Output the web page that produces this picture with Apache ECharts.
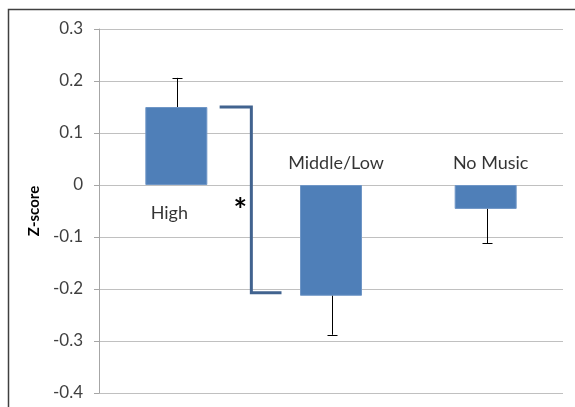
<!DOCTYPE html>
<html>
<head>
<meta charset="utf-8">
<script src="https://cdn.jsdelivr.net/npm/echarts@6/dist/echarts.min.js"></script>
<style>html,body{margin:0;padding:0;background:#fff;}#c{width:575px;height:407px;}</style>
</head>
<body>
<div id="c"></div>
<script>
const categories = ['High', 'Middle/Low', 'No Music'];
const means = [0.15, -0.213, -0.046];
const errorEnds = [0.206, -0.288, -0.112];
const yTicks = { min: -0.4, max: 0.3, step: 0.1 };
const sigPair = [0, 1];
const sigLabel = '*';
const yName = 'Z-score';

const FONT = 'Lato, "Open Sans", sans-serif';
const chart = echarts.init(document.getElementById('c'), null, { renderer: 'canvas' });

const labelOffsets = [[-7, 28], [5, -22], [5, -22]];

const option = {
  animation: false,
  backgroundColor: '#fff',
  grid: { left: 99, right: 12, top: 29, bottom: 14 },
  graphic: [{
    type: 'rect', z: 100, silent: true,
    shape: { x: 8.5, y: 9.5, width: 700, height: 600 },
    style: { fill: 'none', stroke: '#404040', lineWidth: 1.5 }
  }],
  xAxis: {
    type: 'category', data: categories,
    axisLine: { show: false }, axisTick: { show: false }, axisLabel: { show: false },
    splitLine: { show: false }
  },
  yAxis: {
    type: 'value', min: yTicks.min, max: yTicks.max, interval: yTicks.step,
    name: yName, nameLocation: 'middle', nameGap: 56, nameRotate: 90,
    nameTextStyle: { fontFamily: FONT, fontWeight: 'bold', fontSize: 15, color: '#000' },
    axisLine: { show: true, lineStyle: { color: '#a6a6a6', width: 1 } },
    axisTick: { show: true, length: 5, lineStyle: { color: '#a6a6a6' } },
    axisLabel: {
      fontFamily: FONT, fontSize: 17, color: '#404040', margin: 16,
      formatter: v => String(Math.round(v * 10) / 10)
    },
    splitLine: { show: true, lineStyle: { color: '#c0c0c0', width: 1 } }
  },
  series: [
    {
      type: 'bar', data: means, barWidth: 62,
      itemStyle: { color: '#4f7fb8', borderColor: '#6f96c6', borderWidth: 1 }
    },
    {
      type: 'custom',
      data: categories.map((c, i) => [i, means[i], errorEnds[i]]),
      renderItem: (params, api) => {
        const p1 = api.coord([api.value(0), api.value(1)]);
        const p2 = api.coord([api.value(0), api.value(2)]);
        const x = Math.round(p1[0]) + 1.5;
        return {
          type: 'group',
          children: [
            { type: 'line', shape: { x1: x, y1: p1[1], x2: x, y2: p2[1] }, style: { stroke: '#000', lineWidth: 1 } },
            { type: 'line', shape: { x1: x - 5, y1: Math.round(p2[1]) + 0.5, x2: x + 5, y2: Math.round(p2[1]) + 0.5 }, style: { stroke: '#000', lineWidth: 1 } }
          ]
        };
      },
      z: 5
    },
    {
      type: 'scatter', symbolSize: 0,
      data: categories.map((c, i) => ({
        value: [i, 0],
        label: { show: true, formatter: c, position: 'inside', offset: labelOffsets[i] }
      })),
      label: { fontFamily: FONT, fontSize: 18, color: '#000' },
      silent: true, z: 6
    },
    {
      type: 'custom',
      data: [[sigPair[0], means[sigPair[0]], sigPair[1], means[sigPair[1]]]],
      renderItem: (params, api) => {
        const a = api.coord([api.value(0), api.value(1)]);
        const b = api.coord([api.value(2), api.value(3)]);
        const band = api.size([1, 0])[0];
        const xStart = a[0] + band * 0.28;
        const xV = a[0] + band * 0.485;
        const xEnd = b[0] - band * 0.32;
        const yTop = a[1];
        const yBot = b[1] - 3;
        return {
          type: 'group',
          children: [
            { type: 'polyline', shape: { points: [[xStart, yTop], [xV, yTop], [xV, yBot], [xEnd, yBot]] },
              style: { stroke: '#41638f', lineWidth: 3, fill: null } },
            { type: 'text', style: { text: sigLabel, x: xV - 11, y: (yTop + yBot) / 2 + 12,
              align: 'center', verticalAlign: 'middle', fontSize: 32, fontWeight: 'bold', fontFamily: FONT, fill: '#000' } }
          ]
        };
      },
      z: 7
    }
  ]
};
chart.setOption(option);
</script>
</body>
</html>
